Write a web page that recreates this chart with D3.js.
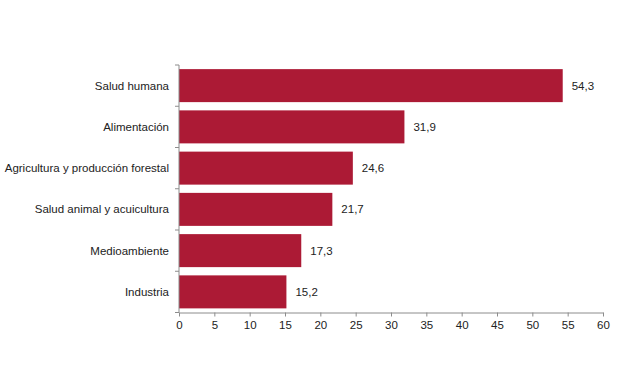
<!DOCTYPE html>
<html><head><meta charset="utf-8">
<script src="https://cdn.jsdelivr.net/npm/d3@7"></script>
<style>body{margin:0;background:#fff}svg{display:block}text{font-family:"Liberation Sans",Arial,sans-serif;}</style>
</head><body>
<script>
const categories = ["Salud humana","Alimentación","Agricultura y producción forestal","Salud animal y acuicultura","Medioambiente","Industria"];
const values = [54.3,31.9,24.6,21.7,17.3,15.2];
const xTicks = [0,5,10,15,20,25,30,35,40,45,50,55,60];

const W=620,H=368;
const svg=d3.select("body").append("svg").attr("width",W).attr("height",H);
const x=d3.scaleLinear().domain([0,60]).range([179,603]);
const y=d3.scaleBand().domain(categories).range([65,312.5]).paddingInner(0.2).paddingOuter(0.1);
const fmt=v=>d3.format(".1f")(v).replace(".",",");
const axisColor="#8c8c8c";
const fs=11.5;

svg.selectAll("rect.bar").data(values).enter().append("rect")
 .attr("x",x(0)).attr("y",(d,i)=>y(categories[i]))
 .attr("width",d=>x(d)-x(0)).attr("height",y.bandwidth())
 .attr("fill","#AC1A35");

svg.selectAll("text.val").data(values).enter().append("text")
 .attr("x",d=>x(d)+9).attr("y",(d,i)=>y(categories[i])+y.bandwidth()/2)
 .attr("dy","0.35em").attr("font-size",fs).attr("fill","#222").text(d=>fmt(d));

// y axis
const gy=svg.append("g");
gy.append("line").attr("x1",x(0)).attr("x2",x(0)).attr("y1",65).attr("y2",312.5).attr("stroke",axisColor);
const bounds=d3.range(categories.length+1).map(i=>65+i*(312.5-65)/categories.length);
gy.selectAll("line.t").data(bounds).enter().append("line")
 .attr("x1",x(0)-4).attr("x2",x(0)).attr("y1",d=>d).attr("y2",d=>d).attr("stroke",axisColor);
gy.selectAll("text").data(categories).enter().append("text")
 .attr("x",x(0)-10).attr("y",d=>y(d)+y.bandwidth()/2).attr("dy","0.35em")
 .attr("text-anchor","end").attr("font-size",fs).attr("fill","#222").text(d=>d);

// x axis
const gx=svg.append("g").attr("transform","translate(0,312.5)");
gx.call(d3.axisBottom(x).tickValues(xTicks).tickSize(4).tickSizeOuter(0).tickPadding(4).tickFormat(d=>d));
gx.select(".domain").attr("stroke",axisColor);
gx.selectAll(".tick line").attr("stroke",axisColor);
gx.selectAll(".tick text").attr("font-size",fs).attr("fill","#222").attr("font-family","Liberation Sans, Arial, sans-serif");
</script>
</body></html>
